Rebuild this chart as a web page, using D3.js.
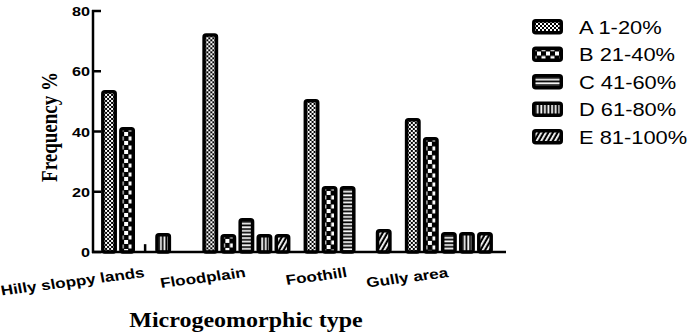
<!DOCTYPE html>
<html>
<head>
<meta charset="utf-8">
<script src="https://cdn.jsdelivr.net/npm/d3@7"></script>
<style>
  html, body { margin: 0; padding: 0; background: #fff; }
  svg { display: block; }
</style>
</head>
<body>
<div id="chart"></div>
<script>
// data
const groups = ["Hilly sloppy lands", "Floodplain", "Foothill", "Gully area"];
const seriesKeys = ["A", "B", "C", "D", "E"];
const seriesLabels = ["A 1-20%", "B 21-40%", "C 41-60%", "D 61-80%", "E 81-100%"];
const valuesA = [53.8, 72.6, 50.8, 44.5];
const valuesB = [41.5, 6, 21.9, 38.2];
const valuesC = [2.6, 11.3, 21.9, 6.6];
const valuesD = [6.3, 6, 0, 6.6];
const valuesE = [0, 6, 7.6, 6.6];
const yTicks = [0, 20, 40, 60, 80];

const seriesValues = [valuesA, valuesB, valuesC, valuesD, valuesE];

const width = 692, height = 336;
const svg = d3.select("#chart").append("svg")
    .attr("width", width)
    .attr("height", height);

// fill patterns, black ground with white marks
const defs = svg.append("defs");
function pat(id, w, h) {
    const p = defs.append("pattern")
        .attr("id", id)
        .attr("patternUnits", "userSpaceOnUse")
        .attr("width", w).attr("height", h);
    p.append("rect").attr("width", w).attr("height", h).attr("fill", "#000");
    return p;
}
const pA = pat("pat-A", 4, 4);
pA.append("rect").attr("x", 0).attr("y", 0).attr("width", 2).attr("height", 2).attr("fill", "#fff");
pA.append("rect").attr("x", 2).attr("y", 2).attr("width", 2).attr("height", 2).attr("fill", "#fff");
const pB = pat("pat-B", 9, 9);
pB.append("rect").attr("x", 0.5).attr("y", 0.5).attr("width", 4).attr("height", 4).attr("fill", "#fff");
pB.append("rect").attr("x", 5).attr("y", 5).attr("width", 4).attr("height", 4).attr("fill", "#fff");
const pC = pat("pat-C", 4, 3.6);
pC.append("rect").attr("x", 0).attr("y", 1.2).attr("width", 4).attr("height", 1.8).attr("fill", "#fff");
const pD = pat("pat-D", 3.6, 4);
pD.append("rect").attr("x", 1.2).attr("y", 0).attr("width", 1.8).attr("height", 4).attr("fill", "#fff");
const pE = pat("pat-E", 4, 4).attr("patternTransform", "rotate(30)");
pE.append("rect").attr("x", 1).attr("y", 0).attr("width", 1.8).attr("height", 4).attr("fill", "#fff");

const y = d3.scaleLinear().domain([0, 80]).range([252, 11]);
const x0 = d3.scaleBand().domain(groups).range([95, 499]).paddingInner(0.13).paddingOuter(0.06);
const x1 = d3.scaleBand().domain(seriesKeys).range([0, x0.bandwidth()]).paddingInner(0.12);

const rows = [];
groups.forEach((g, gi) => {
    seriesKeys.forEach((k, si) => {
        rows.push({ group: g, key: k, value: seriesValues[si][gi] });
    });
});

// bars
const bars = svg.append("g")
    .selectAll("g")
    .data(rows.filter(d => d.value > 0))
    .join("g")
    .attr("transform", d => `translate(${x0(d.group) + x1(d.key)},${y(d.value)})`);

bars.filter(d => d.value >= 3)
    .append("rect")
    .attr("x", 1.75)
    .attr("y", 1.75)
    .attr("width", x1.bandwidth() - 3.5)
    .attr("height", d => y(0) - y(d.value) - 1.75)
    .attr("rx", 2)
    .attr("fill", d => `url(#pat-${d.key})`)
    .attr("stroke", "#000")
    .attr("stroke-width", 3.5);

// very small values show only as a hairline bar
bars.filter(d => d.value < 3)
    .append("rect")
    .attr("x", x1.bandwidth() / 2 - 1.25)
    .attr("y", 0)
    .attr("width", 2.5)
    .attr("height", d => y(0) - y(d.value))
    .attr("fill", "#000");

// axes (inward ticks, like the original)
const axisY = svg.append("g");
axisY.append("line")
    .attr("x1", 93).attr("x2", 93)
    .attr("y1", y(80) - 1).attr("y2", y(0) + 1)
    .attr("stroke", "#000").attr("stroke-width", 2.5);
axisY.selectAll("line.tick")
    .data(yTicks)
    .join("line")
    .attr("class", "tick")
    .attr("x1", 92).attr("x2", 101)
    .attr("y1", d => y(d)).attr("y2", d => y(d))
    .attr("stroke", "#000").attr("stroke-width", 2.5);
axisY.selectAll("text")
    .data(yTicks)
    .join("text")
    .attr("transform", d => `translate(90,${y(d) + 5}) scale(1.2,1)`)
    .attr("text-anchor", "end")
    .style("font", "bold 13.5px 'Liberation Sans', Arial, sans-serif")
    .text(d => d);

svg.append("line")
    .attr("x1", 92).attr("x2", 506)
    .attr("y1", y(0)).attr("y2", y(0))
    .attr("stroke", "#000").attr("stroke-width", 2.5);

// category labels, tilted
svg.append("g")
    .selectAll("text")
    .data(groups)
    .join("text")
    .attr("transform", d => `translate(${x0(d) + x0.bandwidth() / 2},277) scale(1.22,1) rotate(-9)`)
    .attr("text-anchor", "end")
    .style("font", "bold 14px 'Liberation Sans', Arial, sans-serif")
    .text(d => d);

// axis titles
svg.append("text")
    .attr("transform", "translate(246,327) scale(1.2,1)")
    .attr("text-anchor", "middle")
    .style("font", "bold 20px 'Liberation Serif', 'Times New Roman', serif")
    .text("Microgeomorphic type");

svg.append("text")
    .attr("transform", "translate(57,127) rotate(-90) scale(1,1.2)")
    .attr("text-anchor", "middle")
    .style("font", "bold 19px 'Liberation Serif', 'Times New Roman', serif")
    .text("Frequency %");

// legend
const legend = svg.append("g")
    .selectAll("g")
    .data(seriesKeys)
    .join("g")
    .attr("transform", (d, i) => `translate(532,${19 + i * 27.5})`);

legend.append("rect")
    .attr("x", 1.75).attr("y", 1.75)
    .attr("width", 27.5).attr("height", 12)
    .attr("rx", 2)
    .attr("fill", d => `url(#pat-${d})`)
    .attr("stroke", "#000").attr("stroke-width", 3.5);

legend.append("text")
    .attr("transform", "translate(47,14.5) scale(1.25,1)")
    .style("font", "17.5px 'Liberation Sans', Arial, sans-serif")
    .text((d, i) => seriesLabels[i]);
</script>
</body>
</html>
